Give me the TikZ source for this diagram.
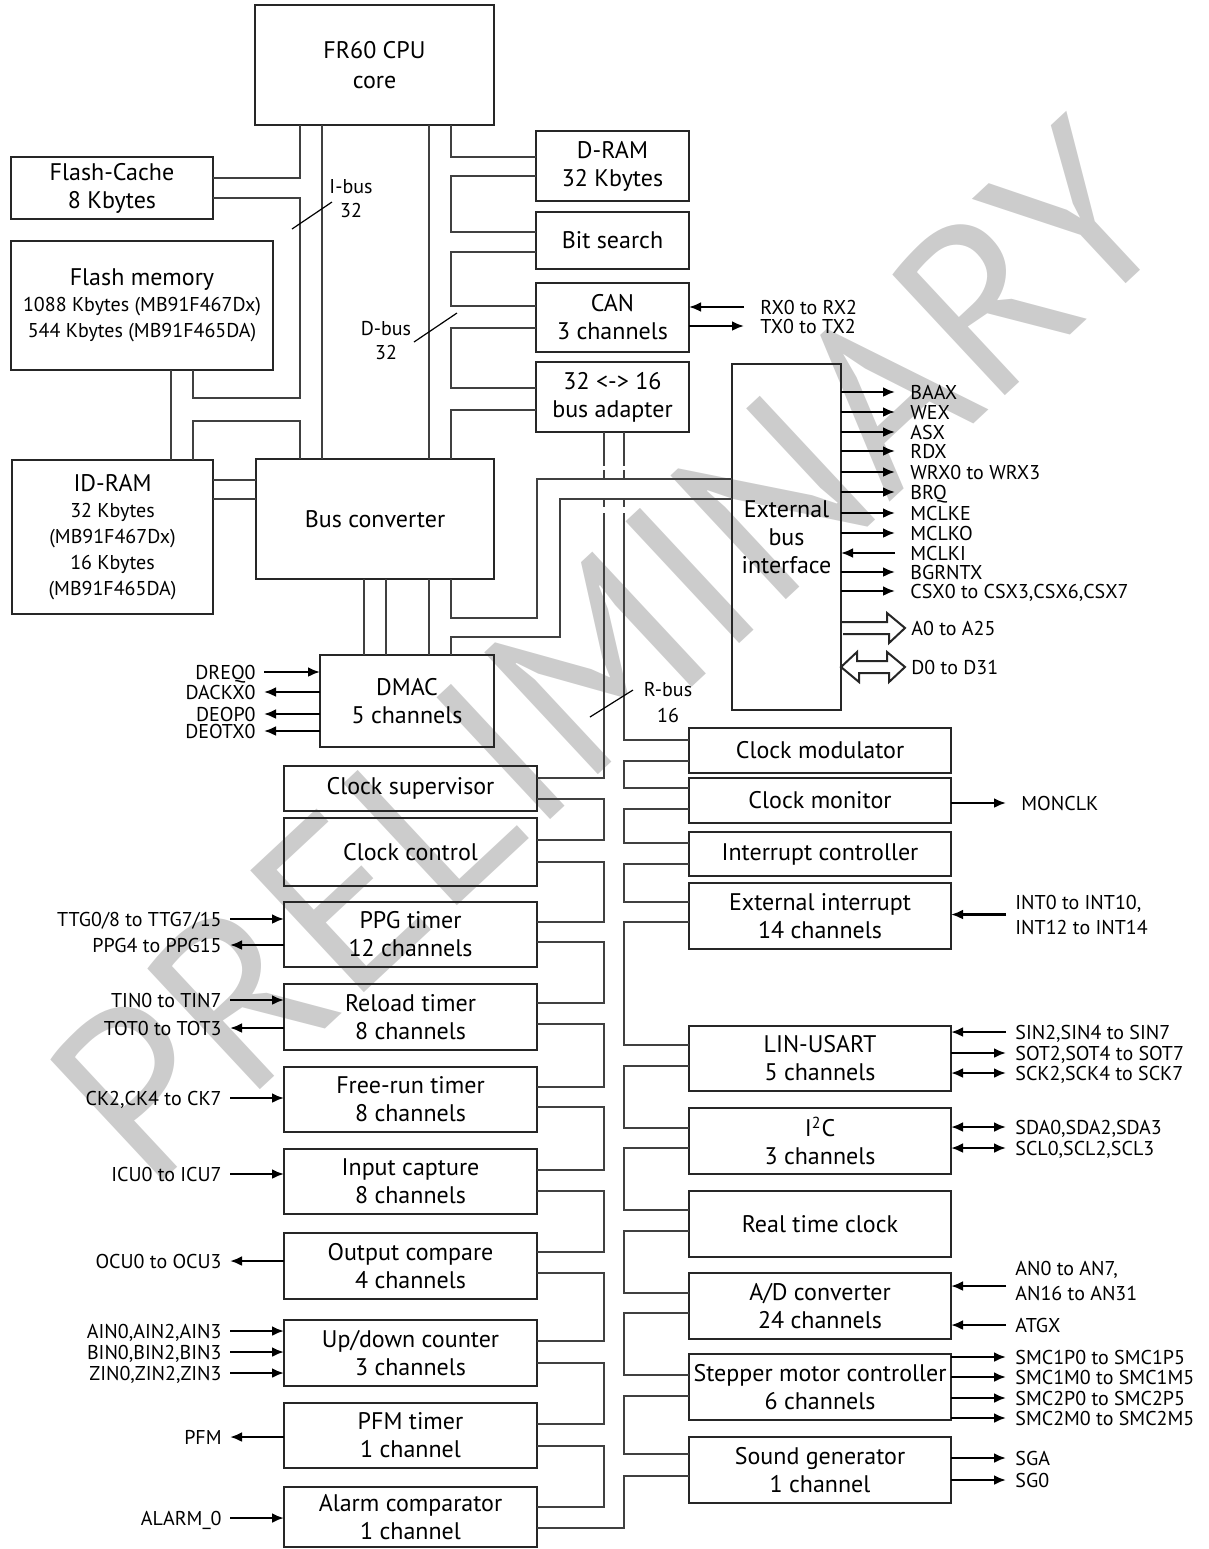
\documentclass[tikz,border=0pt]{standalone}
\usepackage{fontspec}
\setmainfont{PT Sans}
\usetikzlibrary{arrows.meta}

\newcommand{\blkfont}{\fontsize{12}{14}\selectfont}
\newcommand{\subfont}{\fontsize{10}{13}\selectfont}
\newcommand{\sigfont}{\fontsize{10}{12.5}\selectfont}

\tikzset{
  blk/.style 2 args={draw=black!85,line width=1.4pt,minimum width=#1*0.5pt,
    minimum height=#2*0.5pt,inner sep=0pt,outer sep=0pt,align=center,font=\blkfont},
  bus/.style={draw=black!75,line width=0.65pt},
  sig/.style={line width=1.2pt,-{Latex[length=6pt,width=5pt]}},
  bisig/.style={line width=1.2pt,{Latex[length=6pt,width=5pt]}-{Latex[length=6pt,width=5pt]}},
  lbl/.style={font=\sigfont,inner xsep=4pt,inner ysep=0pt,text height=7pt,text depth=0pt},
  lbl2/.style={font=\sigfont,inner xsep=4.5pt,inner ysep=0pt,align=left},
  hollow/.style={draw=black!85,line width=1pt,line join=miter},
  slash/.style={line width=0.6pt},
  buslbl/.style={font=\fontsize{10}{12}\selectfont,align=center,inner sep=0pt},
}

\begin{document}
\begin{tikzpicture}[x=0.5pt,y=-0.5pt]
\useasboundingbox (0,0) rectangle (1209,1549);
% watermark
\node[rotate=43,text=black!20,font=\fontsize{119}{119}\selectfont] (wm) at (608,652) {PRELIMINARY};

% CPU side
\node[blk={239}{120},font=\fontsize{12}{15}\selectfont] (cpu) at (374.5,65) {FR60 CPU\\core};
\node[blk={153}{70}] (dram) at (612.5,166) {D-RAM\\32 Kbytes};
\node[blk={153}{57}] (bits) at (612.5,240.5) {Bit search};
\node[blk={153}{69}] (can) at (612.5,317.5) {CAN\\3 channels};
\node[blk={153}{70}] (adap) at (612.5,397) {32 <-> 16\\bus adapter};
\node[blk={202}{62}] (fcache) at (112,188) {Flash-Cache\\8 Kbytes};
\node[blk={262}{129},font=\fontsize{12}{13}\selectfont] (flash) at (142,305.5)
  {Flash memory\\{\subfont 1088 Kbytes (MB91F467Dx)}\\{\subfont 544 Kbytes (MB91F465DA)}};
\node[blk={201}{154},font=\fontsize{12}{13}\selectfont] (idram) at (112.5,537)
  {ID-RAM\\{\subfont 32 Kbytes}\\{\subfont (MB91F467Dx)}\\{\subfont 16 Kbytes}\\{\subfont (MB91F465DA)}};
\node[blk={238}{120}] (busconv) at (375,519) {Bus converter};
\node[blk={109}{346}] (ebi) at (786.5,537) {External\\bus\\interface};
\node[blk={174}{92}] (dmac) at (407,701) {DMAC\\5 channels};

% left column
\node[blk={253}{45}] (csup) at (410.5,788.5) {Clock supervisor};
\node[blk={253}{68}] (cctl) at (410.5,852) {Clock control};
\node[blk={253}{65}] (ppg) at (410.5,934.5) {PPG timer\\12 channels};
\node[blk={253}{66}] (reload) at (410.5,1017) {Reload timer\\8 channels};
\node[blk={253}{65}] (frt) at (410.5,1099.5) {Free-run timer\\8 channels};
\node[blk={253}{65}] (icu) at (410.5,1181.5) {Input capture\\8 channels};
\node[blk={253}{66}] (ocu) at (410.5,1266) {Output compare\\4 channels};
\node[blk={253}{66}] (udc) at (410.5,1353) {Up/down counter\\3 channels};
\node[blk={253}{65}] (pfm) at (410.5,1435.5) {PFM timer\\1 channel};
\node[blk={253}{60}] (alarm) at (410.5,1517) {Alarm comparator\\1 channel};

% right column
\node[blk={262}{45}] (cmod) at (820,750.5) {Clock modulator};
\node[blk={262}{45}] (cmon) at (820,800.5) {Clock monitor};
\node[blk={262}{44}] (intc) at (820,854) {Interrupt controller};
\node[blk={262}{66}] (extint) at (820,916) {External interrupt\\14 channels};
\node[blk={262}{65}] (lin) at (820,1058.5) {LIN-USART\\5 channels};
\node[blk={262}{66}] (i2c) at (820,1141) {I\textsuperscript{2}C\\3 channels};
\node[blk={262}{66}] (rtc) at (820,1224) {Real time clock};
\node[blk={262}{66}] (adc) at (820,1306) {A/D converter\\24 channels};
\node[blk={262}{66}] (smc) at (820,1387) {Stepper motor controller\\6 channels};
\node[blk={262}{66}] (sound) at (820,1470) {Sound generator\\1 channel};

% I-bus / D-bus
\draw[bus] (300,0 |- cpu.south) |- (fcache.east |- 0,178);
\draw[bus] (fcache.east |- 0,198) -| (300,398) -| (193,0 |- flash.south);
\draw[bus] (171,0 |- flash.south) -- (171,0 |- idram.north);
\draw[bus] (193,0 |- idram.north) |- (300,421) -- (300,0 |- busconv.north);
\draw[bus] (322,0 |- cpu.south) -- (322,0 |- busconv.north);
\draw[bus] (429,0 |- cpu.south) -- (429,0 |- busconv.north);
\draw[bus] (451,0 |- cpu.south) |- (dram.west |- 0,157);
\foreach \a/\ya/\b/\yb in {dram/176/bits/232,bits/252/can/306,can/328/adap/388}
  \draw[bus] (\a.west |- 0,\ya) -| (451,\yb) -- (\b.west |- 0,\yb);
\draw[bus] (adap.west |- 0,410) -| (451,0 |- busconv.north);
\foreach \y in {480,499}
  \draw[bus] (idram.east |- 0,\y) -- (busconv.west |- 0,\y);
\foreach \x in {364,386,429}
  \draw[bus] (\x,0 |- busconv.south) -- (\x,0 |- dmac.north);
\draw[bus] (451,0 |- busconv.south) |- (537,618) |- (ebi.west |- 0,479);
\draw[bus] (451,0 |- dmac.north) |- (560,637) |- (ebi.west |- 0,499);

% R-bus
\foreach \x in {604,624} {
  \draw[bus] (\x,0 |- adap.south) -- (\x,466);
  \draw[bus] (\x,470) -- (\x,478);
  \draw[bus] (\x,500) -- (\x,507);
}
\draw[bus] (604,513) |- (csup.east |- 0,778);
\draw[bus] (624,513) |- (cmod.west |- 0,740);
\foreach \a/\ya/\b/\yb in {csup/799/cctl/840,cctl/862/ppg/922,ppg/942/reload/1003,
    reload/1024/frt/1087,frt/1107/icu/1170,icu/1191/ocu/1252,ocu/1273/udc/1341,
    udc/1363/pfm/1424,pfm/1446/alarm/1507}
  \draw[bus] (\a.east |- 0,\ya) -| (604,\yb) -- (\b.east |- 0,\yb);
\foreach \a/\ya/\b/\yb in {cmod/761/cmon/788,cmon/809/intc/843,intc/864/extint/902,
    extint/922/lin/1045,lin/1066/i2c/1128,i2c/1148/rtc/1210,rtc/1231/adc/1293,
    adc/1313/smc/1375,smc/1396/sound/1454}
  \draw[bus] (\a.west |- 0,\ya) -| (624,\yb) -- (\b.west |- 0,\yb);
\draw[bus] (sound.west |- 0,1476) -| (624,1528) -- (alarm.east |- 0,1528);

% bus labels
\draw[slash] (292,229) -- (332,202);
\node[buslbl] (ibus) at (351,199) {I-bus\\32};
\draw[slash] (414,342) -- (457,313);
\node[buslbl] (dbus) at (386,341) {D-bus\\32};
\draw[slash] (590,717) -- (633,690);
\node[buslbl,font=\fontsize{10}{13}\selectfont] (rbus) at (668,703) {R-bus\\16};

% CAN signals
\node[lbl,anchor=west,inner xsep=8pt] (rx) at (744,307) {RX0 to RX2};
\node[lbl,anchor=west,inner xsep=8pt] (tx) at (744,326) {TX0 to TX2};
\draw[sig] (rx.west) -- (rx -| can.east);
\draw[sig] (tx -| can.east) -- (tx.west);

% external bus signals
\foreach \n/\y/\t in {baax/392/BAAX,wex/412/WEX,asx/432/ASX,rdx/451/RDX,
    wrx/472/WRX0 to WRX3,brq/492/BRQ,mclke/513/MCLKE,mclko/533/MCLKO,
    bgrntx/572/BGRNTX,csx/591/{CSX0 to CSX3,CSX6,CSX7}} {
  \node[lbl,anchor=west,inner xsep=7.5pt] (\n) at (895,\y) {\t};
  \draw[sig] (\n -| ebi.east) -- (\n.west);
}
\node[lbl,anchor=west,inner xsep=7.5pt] (mclki) at (895,553) {MCLKI};
\draw[sig] (mclki.west) -- (mclki -| ebi.east);
\node[lbl,anchor=west,inner xsep=3pt] (addr) at (905,628) {A0 to A25};
\node[lbl,anchor=west,inner xsep=3pt] (data) at (905,667) {D0 to D31};
\draw[hollow] (addr -| ebi.east) ++(0,-6) -- ++(46,0) -- ++(0,-9) -- (addr.west)
  -- ++(-16,15) -- ++(0,-9) -- ++(-46,0);
\draw[hollow] (data -| ebi.east) -- ++(16,-15) -- ++(0,9) -- ++(30,0) -- ++(0,-9)
  -- (data.west) -- ++(-16,15) -- ++(0,-9) -- ++(-30,0) -- ++(0,9) -- cycle;

% DMAC signals
\node[lbl,anchor=east] (dreq) at (264,672) {DREQ0};
\node[lbl,anchor=east] (dack) at (264,692) {DACKX0};
\node[lbl,anchor=east] (deop) at (264,714) {DEOP0};
\node[lbl,anchor=east] (deot) at (264,731) {DEOTX0};
\draw[sig] (dreq.east) -- (dreq -| dmac.west);
\foreach \n in {dack,deop,deot}
  \draw[sig] (\n -| dmac.west) -- (\n.east);

% left signals
\foreach \n/\y/\b/\t in {ttg/919/ppg/{TTG0/8 to TTG7/15},tin/1000/reload/TIN0 to TIN7,
    ck/1098/frt/{CK2,CK4 to CK7},icuin/1174/icu/ICU0 to ICU7,ain/1331/udc/{AIN0,AIN2,AIN3},
    bin/1352/udc/{BIN0,BIN2,BIN3},zin/1373/udc/{ZIN0,ZIN2,ZIN3},alin/1518/alarm/ALARM\_0} {
  \node[lbl,anchor=east] (\n) at (230,\y) {\t};
  \draw[sig] (\n.east) -- (\n -| \b.west);
}
\foreach \n/\y/\b/\t in {ppgo/945/ppg/PPG4 to PPG15,tot/1028/reload/TOT0 to TOT3,
    ocuo/1261/ocu/OCU0 to OCU3,pfmo/1437/pfm/PFM} {
  \node[lbl,anchor=east] (\n) at (230,\y) {\t};
  \draw[sig] (\n -| \b.west) -- (\n.east);
}

% right signals
\node[lbl,anchor=west,inner xsep=7.5pt] (monclk) at (1006,803) {MONCLK};
\draw[sig] (monclk -| cmon.east) -- (monclk.west);
\node[lbl2,anchor=west] (intin) at (1006,914.5) {INT0 to INT10,\\INT12 to INT14};
\draw[sig] (intin.west) -- (intin -| extint.east);
\node[lbl,anchor=west,inner xsep=4.5pt] (sin) at (1006,1032) {SIN2,SIN4 to SIN7};
\node[lbl,anchor=west,inner xsep=4.5pt] (sot) at (1006,1053) {SOT2,SOT4 to SOT7};
\node[lbl,anchor=west,inner xsep=4.5pt] (sck) at (1006,1073) {SCK2,SCK4 to SCK7};
\draw[sig] (sin.west) -- (sin -| lin.east);
\draw[sig] (sot -| lin.east) -- (sot.west);
\draw[bisig] (sck -| lin.east) -- (sck.west);
\node[lbl,anchor=west,inner xsep=4.5pt] (sda) at (1006,1127) {SDA0,SDA2,SDA3};
\node[lbl,anchor=west,inner xsep=4.5pt] (scl) at (1006,1148) {SCL0,SCL2,SCL3};
\draw[bisig] (sda -| i2c.east) -- (sda.west);
\draw[bisig] (scl -| i2c.east) -- (scl.west);
\node[lbl2,anchor=west] (anin) at (1006,1281) {AN0 to AN7,\\AN16 to AN31};
\coordinate (anend) at (1006,1286);
\draw[sig] (anend) -- (anend -| adc.east);
\node[lbl,anchor=west,inner xsep=4.5pt] (atgx) at (1006,1325) {ATGX};
\draw[sig] (atgx.west) -- (atgx -| adc.east);
\foreach \n/\y/\t in {smc1p/1357/SMC1P0 to SMC1P5,smc1m/1377/SMC1M0 to SMC1M5,
    smc2p/1398/SMC2P0 to SMC2P5,smc2m/1418/SMC2M0 to SMC2M5,sga/1458/SGA,sgo/1480/SG0} {
  \node[lbl,anchor=west,inner xsep=4.5pt] (\n) at (1006,\y) {\t};
  \draw[sig] (\n -| smc.east) -- (\n.west);
}
\end{tikzpicture}
\end{document}
